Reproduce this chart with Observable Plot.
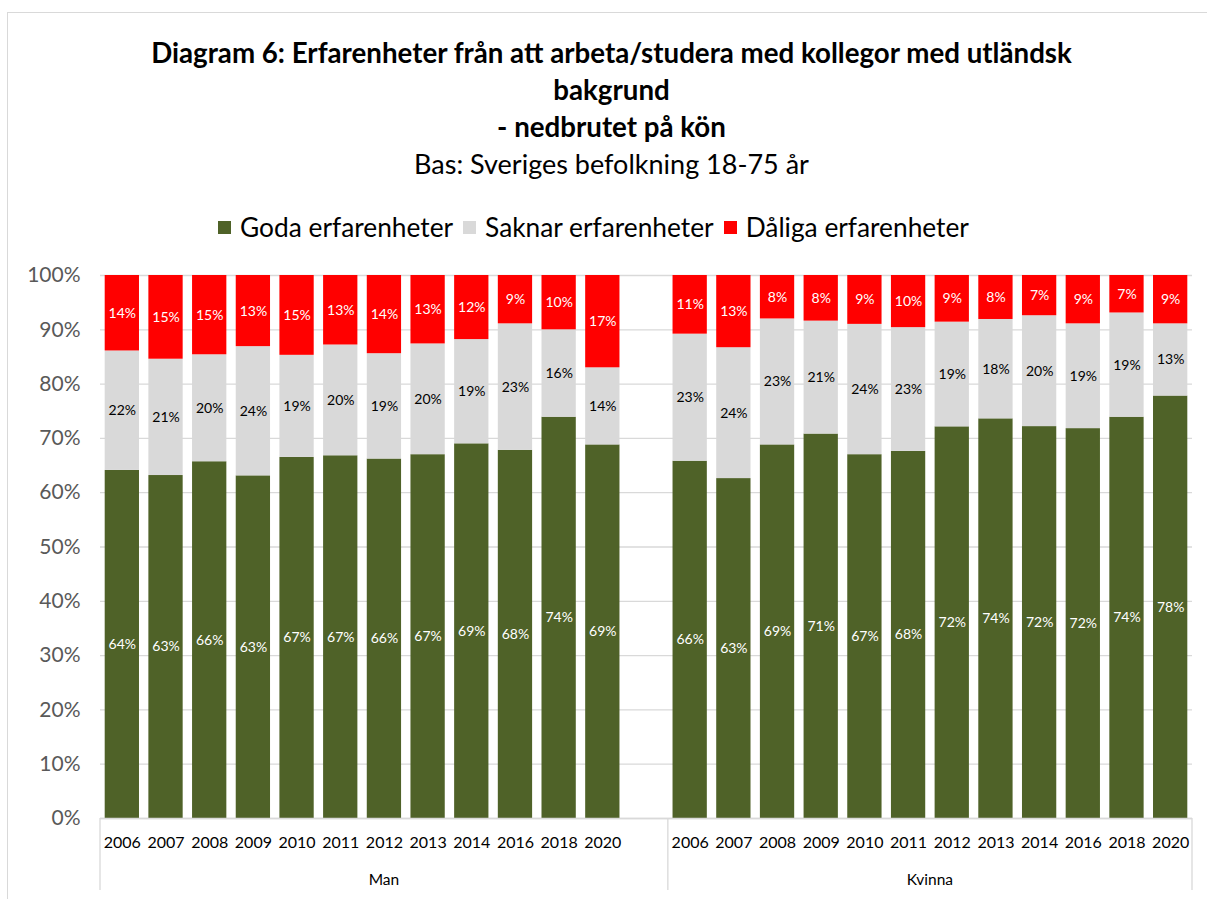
<!DOCTYPE html>
<html>
<head>
<meta charset="utf-8">
<script src="https://cdn.jsdelivr.net/npm/d3@7"></script>
<script src="https://cdn.jsdelivr.net/npm/@observablehq/plot@0.6"></script>
<style>
  body { margin: 0; background: #fff; }
  #page { position: relative; width: 1207px; height: 899px; overflow: hidden; font-family: Lato, "Open Sans", sans-serif; }
  #frame { position: absolute; left: 7px; top: 12px; width: 1300px; height: 1000px; border: 1px solid #d9d9d9; }
  #title { position: absolute; top: 34px; left: 8px; width: 1207px; text-align: center; font-size: 27px; line-height: 37px; color: #000; }
  #title b { font-weight: bold; font-size: 27.7px; }
  #legend { position: absolute; top: 209px; left: -10px; width: 1207px; display: flex; justify-content: center; align-items: center; font-size: 26.3px; color: #000; line-height: 36px; }
  #legend .item { display: flex; align-items: center; margin: 0 5px; }
  #legend .sw { width: 13px; height: 13px; margin-right: 9px; }
  #chart { position: absolute; left: 0; top: 250px; }
</style>
</head>
<body>
<div id="page">
  <div id="frame"></div>
  <div id="title"><b>Diagram 6: Erfarenheter från att arbeta/studera med kollegor med utländsk<br>bakgrund<br>- nedbrutet på kön</b><br>Bas: Sveriges befolkning 18-75 år</div>
  <div id="legend"></div>
  <div id="chart"></div>
</div>
<script>
// ---- Data ----
const groups = ["Man", "Kvinna"];
const years = ["2006","2007","2008","2009","2010","2011","2012","2013","2014","2016","2018","2020"];
const seriesNames = ["Goda erfarenheter", "Saknar erfarenheter", "Dåliga erfarenheter"];
const seriesColors = ["#4F6228", "#D9D9D9", "#FF0000"];

const manGoda    = [64.1, 63.1, 65.7, 63.1, 66.5, 66.8, 66.2, 67.0, 69.0, 67.8, 73.9, 68.8];
const manSaknar  = [22.0, 21.4, 19.7, 23.8, 18.8, 20.4, 19.4, 20.4, 19.2, 23.3, 16.1, 14.2];
const manDaliga  = [13.9, 15.4, 14.6, 13.1, 14.7, 12.8, 14.4, 12.6, 11.8,  8.9, 10.0, 17.0];

const kvinnaGoda   = [65.8, 62.6, 68.8, 70.8, 67.0, 67.6, 72.2, 73.6, 72.1, 71.8, 73.9, 77.8];
const kvinnaSaknar = [23.4, 24.1, 23.2, 20.8, 24.0, 22.8, 19.3, 18.3, 20.4, 19.3, 19.2, 13.3];
const kvinnaDaliga = [10.8, 13.3,  8.0,  8.4,  9.0,  9.6,  8.6,  8.1,  7.4,  8.9,  6.9,  8.9];

const yTicks = [0, 0.1, 0.2, 0.3, 0.4, 0.5, 0.6, 0.7, 0.8, 0.9, 1.0];

// ---- Build table ----
const bySeries = {
  Man: [manGoda, manSaknar, manDaliga],
  Kvinna: [kvinnaGoda, kvinnaSaknar, kvinnaDaliga]
};
const rows = [];
for (const g of groups) {
  years.forEach((yr, i) => {
    seriesNames.forEach((s, j) => {
      rows.push({key: `${g}|${yr}`, group: g, year: yr, series: s, value: bySeries[g][j][i]});
    });
  });
}
const xDomain = [
  ...years.map(y => `Man|${y}`), "Man|",
  ...years.map(y => `Kvinna|${y}`)
];

// ---- Legend ----
const legend = document.getElementById("legend");
seriesNames.forEach((s, i) => {
  const it = document.createElement("div");
  it.className = "item";
  it.innerHTML = `<span class="sw" style="background:${seriesColors[i]}"></span><span>${s}</span>`;
  legend.appendChild(it);
});

// ---- Plot ----
const stackOpts = {x: "key", y: "value", z: "series", order: seriesNames, offset: "normalize"};
const darkSeries = "Saknar erfarenheter";
const lightText = d => d.series !== darkSeries ? Math.round(d.value) + "%" : null;
const darkText = d => d.series === darkSeries ? Math.round(d.value) + "%" : null;

const plot = Plot.plot({
  width: 1207,
  height: 650,
  marginLeft: 100,
  marginRight: 15,
  marginTop: 25,
  marginBottom: 82,
  style: {fontFamily: "Lato, 'Open Sans', sans-serif", background: "transparent"},
  x: {type: "band", domain: xDomain, paddingInner: 0.215, paddingOuter: 0.1075, round: false, axis: null, label: null},
  y: {domain: [0, 1], axis: null, label: null},
  color: {domain: seriesNames, range: seriesColors},
  marks: [
    Plot.gridY(yTicks, {stroke: "#d9d9d9", strokeOpacity: 1, strokeWidth: 1.3}),
    Plot.barY(rows, Plot.stackY({...stackOpts, fill: "series"})),
    Plot.ruleY([0], {stroke: "#d9d9d9", strokeWidth: 1.3}),
    Plot.axisY(yTicks, {tickSize: 0, tickPadding: 20, tickFormat: d3.format(".0%"), fontSize: 21, color: "#595959", label: null}),
    Plot.axisX({tickSize: 0, tickPadding: 18, tickFormat: k => k.split("|")[1], fontSize: 16, color: "#000", label: null}),
    Plot.text(rows, Plot.stackY({...stackOpts, text: lightText, fill: "#fff", fontSize: 14})),
    Plot.text(rows, Plot.stackY({...stackOpts, text: darkText, fill: "#000", fontSize: 14}))
  ]
});
document.getElementById("chart").appendChild(plot);

// ---- Group axis (multi-level category labels) using the plot's x scale ----
const xs = plot.scale("x");
const ys = plot.scale("y");
const step = xs.step;
const half = (step - xs.bandwidth) / 2;
const left = k => xs.apply(k) - half;
const y0 = ys.apply(0);
const svg = d3.select(plot);
const g = svg.append("g");
const seps = [left("Man|2006"), left("Kvinna|2006"), left("Kvinna|2020") + step];
g.selectAll("line").data(seps).join("line")
  .attr("x1", d => d).attr("x2", d => d)
  .attr("y1", y0).attr("y2", y0 + 72)
  .attr("stroke", "#d9d9d9").attr("stroke-width", 1.3);
const groupLabels = [
  {name: "Man", x: (seps[0] + seps[1]) / 2},
  {name: "Kvinna", x: (seps[1] + seps[2]) / 2}
];
g.selectAll("text").data(groupLabels).join("text")
  .attr("x", d => d.x).attr("y", y0 + 67)
  .attr("text-anchor", "middle")
  .attr("font-size", 15.5).attr("fill", "#000")
  .text(d => d.name);
</script>
</body>
</html>
